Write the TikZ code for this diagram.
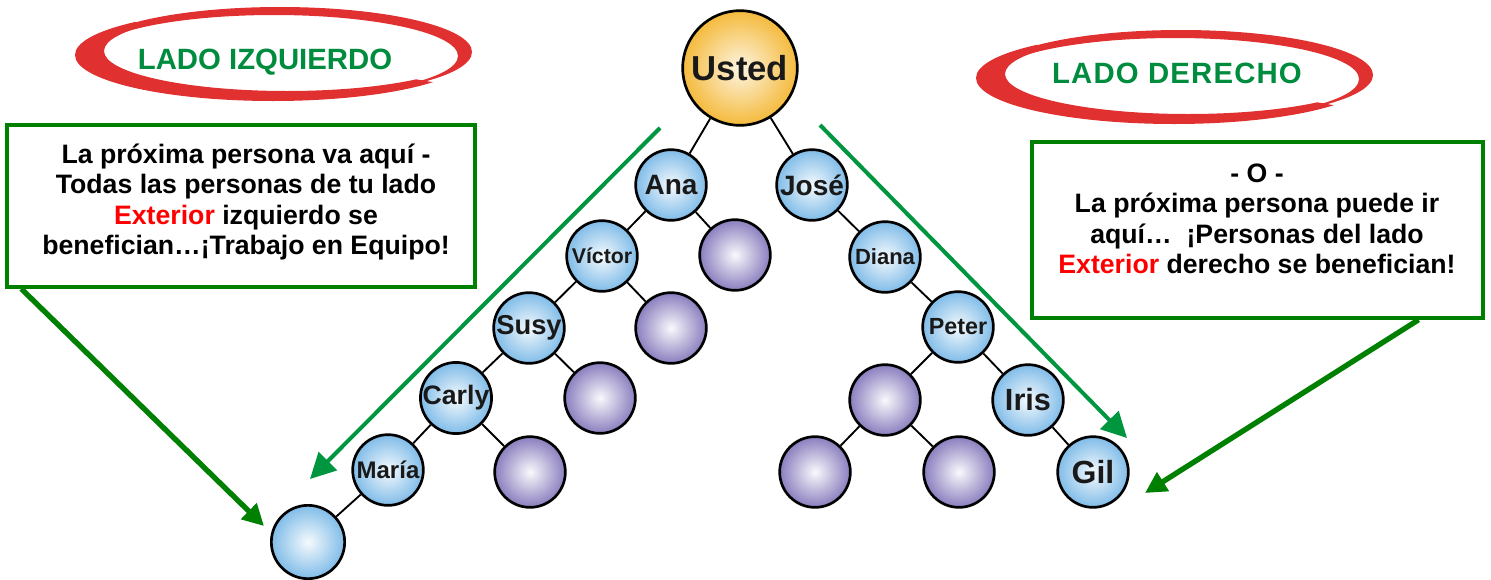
\documentclass[tikz,border=0pt]{standalone}
\usepackage{fontspec}
\setmainfont{Liberation Sans}
\usepackage{tikz}
\usetikzlibrary{arrows.meta, calc, shadings}

\definecolor{ladogreen}{RGB}{0,140,62}
\definecolor{boxgreen}{RGB}{0,128,0}
\definecolor{arrowgreen}{RGB}{0,150,64}
\definecolor{swooshred}{RGB}{224,48,48}
\definecolor{ballblue}{RGB}{128,188,232}
\definecolor{ballpurple}{RGB}{138,126,190}
\definecolor{ballgold}{RGB}{244,186,60}
\definecolor{exteriorred}{RGB}{255,0,0}

\tikzset{
  person/.style={circle, draw=black, line width=2pt, minimum size=53pt, inner sep=0pt, font=\bfseries, text=black!90},
  blueball/.style={person, inner color=ballblue!8, outer color=ballblue},
  purpleball/.style={person, inner color=ballpurple!5, outer color=ballpurple},
  goldball/.style={person, minimum size=86pt, inner color=ballgold!15, outer color=ballgold},
  link/.style={draw=black, line width=1.4pt},
  greenbox/.style={draw=boxgreen, line width=2.6pt, fill=white, inner sep=0pt},
  boxtext/.style={align=center, font=\bfseries\fontsize{20}{22.8}\selectfont},
  ladotext/.style={font=\bfseries\fontsize{22}{22}\selectfont, text=ladogreen},
  longarrow/.style={draw=arrowgreen, line width=3pt, -{Triangle[length=19pt, width=19pt]}},
  boxarrow/.style={draw=boxgreen, line width=4pt, -{Triangle[length=16pt, width=16pt]}},
  swoosh/.pic={
    % trazo abajo-izquierda
    \begin{scope}
      \clip (0,0) -- (-283,-68) -- (-300,-68) -- (-300,120) -- (300,120) -- (300,51) -- cycle;
      \fill[swooshred, even odd rule] (0,0) ellipse [x radius=198, y radius=46]
                                      (14,-4) ellipse [x radius=183, y radius=40];
    \end{scope}
    % trazo arriba-derecha
    \begin{scope}
      \clip (0,0) -- (-300,-48.6) -- (-300,-120) -- (300,-120) -- (300,120) -- (228,54) -- cycle;
      \fill[swooshred, even odd rule] (7,-3) ellipse [x radius=192, y radius=45]
                                      (1,1) ellipse [x radius=184, y radius=41];
    \end{scope}
  }
}

\begin{document}
\begin{tikzpicture}[x=0.75pt, y=-0.75pt]
  \useasboundingbox (0,0) rectangle (1491,579);

  % lados
  \pic (izqswoosh) at (273,55) {swoosh};
  \node[ladotext] (izq) at (265,62) {LADO IZQUIERDO};
  \pic (derswoosh) at (1174,78) {swoosh};
  \node[ladotext] (der) at (1177,73) {\addfontfeatures{LetterSpace=4}LADO DERECHO};

  % cajas
  \node[greenbox, minimum width=351pt, minimum height=121.5pt] (lbox) at (241,206) {};
  \node[boxtext] (ltext) at (246,202) {La próxima persona va aquí -\\
    Todas las personas de tu lado\\
    \textcolor{exteriorred}{Exterior} izquierdo se\\
    benefician…¡Trabajo en Equipo!};
  \node[greenbox, minimum width=338pt, minimum height=132pt] (rbox) at (1257.5,230) {};
  \node[boxtext] (rtext) at (1257,219) {- O -\\
    La próxima persona puede ir\\
    aquí…\ \ ¡Personas del lado\\
    \textcolor{exteriorred}{Exterior} derecho se benefician!};

  % arbol
  \node[goldball, font=\bfseries\fontsize{26}{26}\selectfont] (usted) at (740,68) {Usted};
  \node[blueball, font=\bfseries\fontsize{21}{21}\selectfont] (ana) at (671,185) {Ana};
  \node[blueball, font=\bfseries\fontsize{21}{21}\selectfont] (jose) at (812,185) {José};
  \node[purpleball] (pana) at (735,255) {};
  \node[blueball, font=\bfseries\fontsize{16}{16}\selectfont] (victor) at (602,256) {Víctor};
  \node[purpleball] (pvictor) at (671,328) {};
  \node[blueball, font=\bfseries\fontsize{20.5}{20.5}\selectfont] (susy) at (529,328) {Susy};
  \node[purpleball] (psusy) at (600,398) {};
  \node[blueball, font=\bfseries\fontsize{20}{20}\selectfont] (carly) at (456,398) {Carly};
  \node[purpleball] (pcarly) at (530,472) {};
  \node[blueball, font=\bfseries\fontsize{18}{18}\selectfont] (maria) at (388,470) {María};
  \node[blueball, minimum size=55pt] (nuevo) at (308,542) {};
  \node[blueball, font=\bfseries\fontsize{16.5}{16.5}\selectfont] (diana) at (885,257) {Diana};
  \node[blueball, font=\bfseries\fontsize{17.5}{17.5}\selectfont] (peter) at (958,327) {Peter};
  \node[purpleball] (ppeter) at (885,400) {};
  \node[blueball, font=\bfseries\fontsize{23}{23}\selectfont] (iris) at (1028,400) {Iris};
  \node[purpleball] (pizq) at (815,472) {};
  \node[purpleball] (pder) at (959,472) {};
  \node[blueball, font=\bfseries\fontsize{24}{24}\selectfont] (gil) at (1093,472) {Gil};

  \draw[link] (usted) -- (ana);
  \draw[link] (usted) -- (jose);
  \draw[link] (ana) -- (victor);
  \draw[link] (ana) -- (pana);
  \draw[link] (victor) -- (susy);
  \draw[link] (victor) -- (pvictor);
  \draw[link] (susy) -- (carly);
  \draw[link] (susy) -- (psusy);
  \draw[link] (carly) -- (maria);
  \draw[link] (carly) -- (pcarly);
  \draw[link] (maria) -- (nuevo);
  \draw[link] (jose) -- (diana);
  \draw[link] (diana) -- (peter);
  \draw[link] (peter) -- (ppeter);
  \draw[link] (peter) -- (iris);
  \draw[link] (ppeter) -- (pizq);
  \draw[link] (ppeter) -- (pder);
  \draw[link] (iris) -- (gil);

  % flechas
  \coordinate (izqini) at (660,128);
  \coordinate (izqfin) at (310,479);
  \coordinate (derini) at (820,125);
  \coordinate (derfin) at (1127,438);
  \coordinate (lpunta) at (264,526);
  \coordinate (rpunta) at (1145,493);
  \draw[longarrow] (izqini) -- (izqfin);
  \draw[longarrow] (derini) -- (derfin);
  \draw[boxarrow] ($(lbox.south west)+(16,0)$) -- (lpunta);
  \draw[boxarrow] ($(rbox.south east)+(-66,0)$) -- (rpunta);
\end{tikzpicture}
\end{document}
